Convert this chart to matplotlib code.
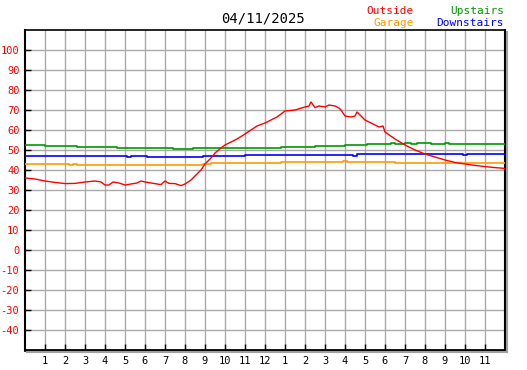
import matplotlib
matplotlib.use("Agg")
import matplotlib.pyplot as plt
from matplotlib.lines import Line2D

# Hours since midnight and temperatures
out_h = [0, 0.5, 1, 1.5, 2, 2.5, 3, 3.5, 3.8, 4, 4.2, 4.4, 4.7, 5, 5.3, 5.6, 5.8,
         6, 6.3, 6.6, 6.8, 7, 7.2, 7.5, 7.8, 8, 8.3, 8.5, 8.8, 9, 9.3, 9.5, 9.8,
         10, 10.3, 10.6, 11, 11.3, 11.6, 12, 12.3, 12.6, 13, 13.5, 14, 14.2, 14.3,
         14.5, 14.7, 15, 15.2, 15.5, 15.7, 15.8, 16, 16.3, 16.5, 16.6, 16.8, 17,
         17.5, 17.7, 17.9, 18, 18.5, 19, 19.5, 20, 20.5, 21, 21.5, 22, 22.5, 23,
         23.5, 24]
out_v = [36, 35.5, 34.5, 33.8, 33.2, 33.3, 34, 34.5, 34, 32.5, 32.5, 34, 33.5, 32.5,
         33, 33.5, 34.5, 34, 33.5, 33, 32.7, 34.5, 33.3, 33.2, 32.2, 33, 35, 37,
         40, 43, 46, 48.5, 51, 52.5, 54, 55.5, 58, 60, 62, 63.5, 65, 66.5, 69.5,
         70, 71.5, 72, 74, 71.2, 72, 71.5, 72.5, 72, 71, 70, 67, 66.5, 67, 69,
         67, 65, 62.5, 61.5, 62, 59, 55.5, 52.5, 50, 48, 46.5, 45, 43.8, 43, 42.3,
         41.7, 41.2, 40.8]

up_h = [0, 1.0, 2.6, 4.6, 7.4, 8.4, 12.8, 14.5, 16.0, 17.1, 18.3, 18.5, 19.0, 19.3,
        19.6, 20.0, 20.3, 21.0, 21.2, 24]
up_v = [52.3, 52.0, 51.5, 51.0, 50.5, 51.0, 51.6, 52.2, 52.5, 53.0, 53.3, 53.0,
        53.3, 53.0, 53.3, 53.3, 53.0, 53.3, 53.0, 53.0]

down_h = [0, 5.1, 5.3, 6.1, 6.3, 8.9, 11.0, 16.4, 16.6, 21.9, 22.1, 24]
down_v = [47.0, 46.5, 47.0, 46.7, 46.5, 47.0, 47.5, 47.2, 48.0, 47.5, 48.0, 48.0]

gar_h = [0, 2.2, 2.4, 2.6, 8.9, 9.3, 12.8, 15.9, 16.1, 16.3, 17.5, 17.8, 18.5, 24]
gar_v = [42.8, 42.3, 42.8, 42.3, 42.8, 43.3, 43.8, 44.3, 43.8, 44.2, 43.8, 44.2, 43.7, 43.7]

hour_labels = ["1", "2", "3", "4", "5", "6", "7", "8", "9", "10", "11", "12",
               "1", "2", "3", "4", "5", "6", "7", "8", "9", "10", "11"]
y_ticks = list(range(-40, 101, 10))

W, H = 527, 370
fig = plt.figure(figsize=(W / 100, H / 100), dpi=100)
ax = fig.add_axes([25 / W, 20 / H, 480 / W, 320 / H])
mono = "DejaVu Sans Mono"

ax.plot(up_h, up_v, color="#009900", lw=1.2, drawstyle="steps-post", zorder=3)
ax.plot(down_h, down_v, color="#0000ff", lw=1.2, drawstyle="steps-post", zorder=3)
ax.plot(gar_h, gar_v, color="#ff9900", lw=1.2, drawstyle="steps-post", zorder=3)
ax.plot(out_h, out_v, color="#ff0000", lw=1.0, zorder=4)

ax.set_xlim(0, 24)
ax.set_ylim(-50, 110)
ax.set_xticks(range(1, 24))
ax.set_xticklabels(hour_labels, fontfamily=mono, fontsize=7.5)
ax.set_yticks(y_ticks)
ax.set_yticklabels([str(v) for v in y_ticks], fontfamily=mono, fontsize=7.5, color="red")
ax.tick_params(direction="in", length=4, width=1, pad=4)
ax.grid(True, color="#aaaaaa", lw=1.0)
ax.set_axisbelow(True)
for side, lw in [("left", 1.5), ("bottom", 2), ("top", 1.2), ("right", 1.5)]:
    ax.spines[side].set_linewidth(lw)
    ax.spines[side].set_color("black")

# grey drop shadow along bottom and right edge
x0, x1 = 27 / W, 507 / W
y0, y1 = 18 / H, 338 / H
fig.add_artist(Line2D([x0, x1], [y0, y0], color="#a0a0a0", lw=1.5, transform=fig.transFigure))
fig.add_artist(Line2D([x1, x1], [y0, y1], color="#a0a0a0", lw=1.5, transform=fig.transFigure))

fig.text(263 / W, 1 - 19 / H, "04/11/2025", ha="center", va="center",
         fontfamily=mono, fontsize=10)
fig.text(414 / W, 1 - 11 / H, "Outside", ha="right", va="center", color="#ff0000",
         fontfamily=mono, fontsize=8)
fig.text(414 / W, 1 - 23 / H, "Garage", ha="right", va="center", color="#ff9900",
         fontfamily=mono, fontsize=8)
fig.text(504 / W, 1 - 11 / H, "Upstairs", ha="right", va="center", color="#009900",
         fontfamily=mono, fontsize=8)
fig.text(504 / W, 1 - 23 / H, "Downstairs", ha="right", va="center", color="#0000ff",
         fontfamily=mono, fontsize=8)

fig.savefig("out.png", dpi=100)
